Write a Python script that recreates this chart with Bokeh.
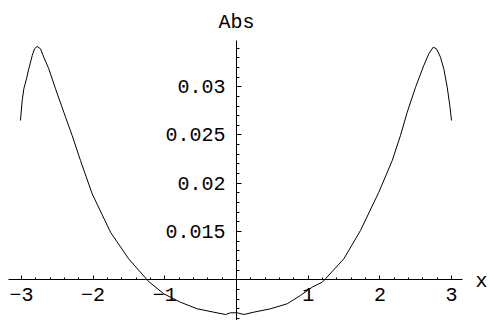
import numpy as np
from bokeh.plotting import figure
from bokeh.models import LinearAxis, FixedTicker, Label, Range1d
from bokeh.embed import file_html
from bokeh.resources import INLINE

# Sampled curve: Abs as a function of x
x = [-3.013, -2.989, -2.966, -2.929, -2.897, -2.849, -2.817, -2.78, -2.734,
     -2.688, -2.618, -2.524, -2.409, -2.292, -2.176, -2.013, -1.757, -1.504,
     -1.225, -1.014, -0.781, -0.548, -0.317, -0.153, -0.084, 0.01, 0.102,
     0.241, 0.474, 0.707, 0.893, 1.056, 1.195, 1.241, 1.497, 1.729, 1.985,
     2.172, 2.287, 2.381, 2.497, 2.612, 2.682, 2.743, 2.789, 2.845, 2.891,
     2.939, 2.975, 2.999]
y = [0.0265, 0.02857, 0.02978, 0.03081, 0.03185, 0.03322, 0.03392, 0.03416,
     0.03392, 0.03305, 0.03185, 0.02978, 0.02736, 0.02495, 0.02236, 0.01892,
     0.01494, 0.01219, 0.00984, 0.00857, 0.0077, 0.00702, 0.00667, 0.00643,
     0.00661, 0.00661, 0.00643, 0.00667, 0.00702, 0.00754, 0.0084, 0.00926,
     0.00977, 0.01012, 0.01219, 0.01512, 0.01908, 0.02236, 0.02495, 0.02736,
     0.02994, 0.03219, 0.0334, 0.03408, 0.03392, 0.03305, 0.03185, 0.02994,
     0.02805, 0.0265]

x_ticks = [-3, -2, -1, 1, 2, 3]
x_tick_labels = ["\u22123", "\u22122", "\u22121", "1", "2", "3"]
y_ticks = [0.015, 0.02, 0.025, 0.03]
y_tick_labels = ["0.015", "0.02", "0.025", "0.03"]

x_minor = [round(v, 1) for v in np.arange(-3.0, 3.01, 0.2)]
y_minor = [round(v, 3) for v in np.arange(0.006, 0.0345, 0.001)]

FONT = "Liberation Mono"

p = figure(width=490, height=320, output_backend="svg", toolbar_location=None,
           x_range=Range1d(-3.2915, 3.5425), y_range=Range1d(0.00581, 0.038914),
           x_axis_location=None, y_axis_location=None,
           min_border=0, outline_line_color=None,
           background_fill_color="white", border_fill_color="white")
for g in p.grid:
    g.visible = False

xaxis = LinearAxis(fixed_location=0.01, bounds=(-3.18, 3.15),
                   ticker=FixedTicker(ticks=x_ticks, minor_ticks=x_minor),
                   major_label_overrides=dict(zip(x_ticks, x_tick_labels)),
                   major_tick_in=4, major_tick_out=0,
                   minor_tick_in=2, minor_tick_out=0,
                   major_label_standoff=8,
                   major_label_text_font=FONT,
                   major_label_text_font_size="20px",
                   major_label_text_color="black",
                   axis_line_color="black", major_tick_line_color="black",
                   minor_tick_line_color="black")
p.add_layout(xaxis, "below")

yaxis = LinearAxis(fixed_location=0, bounds=(0.0055, 0.03478),
                   ticker=FixedTicker(ticks=y_ticks, minor_ticks=y_minor),
                   major_label_overrides=dict(zip(y_ticks, y_tick_labels)),
                   major_tick_in=5, major_tick_out=0,
                   minor_tick_in=3, minor_tick_out=0,
                   major_label_standoff=11,
                   major_label_text_font=FONT,
                   major_label_text_font_size="20px",
                   major_label_text_color="black",
                   axis_line_color="black", major_tick_line_color="black",
                   minor_tick_line_color="black")
p.add_layout(yaxis, "left")

p.line(x, y, line_color="black", line_width=1)

p.add_layout(Label(x=0, y=0.03667, text="Abs", text_align="center",
                   text_baseline="alphabetic", text_font=FONT,
                   text_font_size="20px", text_color="black"))
p.add_layout(Label(x=3.417, y=0.0098, text="x", text_align="center",
                   text_baseline="middle", text_font=FONT,
                   text_font_size="20px", text_color="black"))

open("out.html", "w").write(file_html(p, INLINE))
